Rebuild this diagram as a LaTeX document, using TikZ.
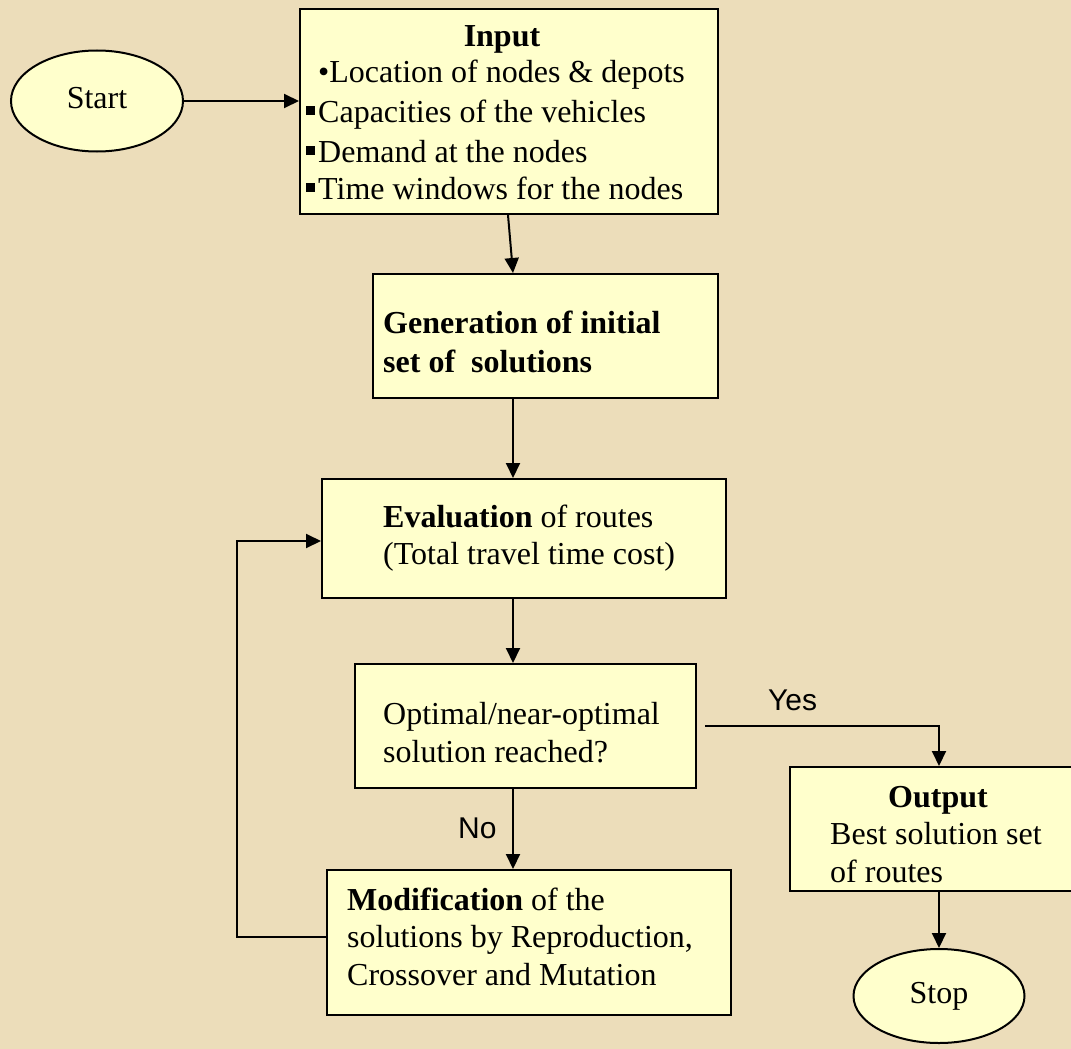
\documentclass[tikz,border=0pt]{standalone}
\usepackage{fontspec}
\setmainfont{Liberation Serif}
\newfontfamily\arialf{Liberation Sans}
\usetikzlibrary{arrows.meta,shapes.geometric}
\definecolor{bgcol}{RGB}{236,221,186}
\definecolor{boxcol}{RGB}{255,255,204}
\tikzset{
  box/.style={draw=black, fill=boxcol, line width=2pt, rectangle, anchor=north west, inner sep=0pt},
  oval/.style={draw=black, fill=boxcol, line width=2pt, ellipse, inner sep=0pt,
    font=\fontsize{32}{38}\selectfont, text height=21pt, text depth=7pt},
  txt/.style={inner sep=0pt, anchor=base west, font=\fontsize{32}{38}\selectfont},
  ctxt/.style={inner sep=0pt, anchor=base, font=\fontsize{32}{38}\selectfont},
  lbl/.style={inner sep=0pt, anchor=base west, font=\arialf\fontsize{30}{36}\selectfont},
  arr/.style={line width=2pt, -{Triangle[length=15pt,width=14pt]}},
  conn/.style={line width=2pt}
}
\newcommand{\sqb}{\rule[7pt]{9pt}{9pt}\hspace{3pt}}
\begin{document}
\begin{tikzpicture}[x=1pt,y=-1pt]
\useasboundingbox (0,0) rectangle (1071,1049);
\clip (0,0) rectangle (1071,1049);
\fill[bgcol] (0,0) rectangle (1071,1049);

\coordinate (col) at (513,0);
\coordinate (ocol) at (939,0);
\coordinate (loopx) at (237,0);

% boxes
\node[box, minimum width=418, minimum height=205] (input) at (299,8) {};
\node[box, minimum width=345, minimum height=124] (gen) at (372,273) {};
\node[box, minimum width=404, minimum height=119] (eval) at (321,478) {};
\node[box, minimum width=341, minimum height=124] (dec) at (354,663) {};
\node[box, minimum width=404, minimum height=145] (mod) at (326,869) {};
\node[box, minimum width=300, minimum height=124] (out) at (789,766) {};
\node[oval, minimum width=172, minimum height=101] (start) at (97,101) {Start};
\node[oval, minimum width=171, minimum height=94] (stop) at (939,996) {Stop};

% texts
\node[ctxt] (t-in) at (502,47) {\textbf{Input}};
\node[txt] (t-in1) at (318,83) {•Location of nodes \& depots};
\node[txt] (t-in2) at (306,122) {\sqb Capacities of the vehicles};
\node[txt] (t-in3) at (306,162) {\sqb Demand at the nodes};
\node[txt] (t-in4) at (306,199) {\sqb Time windows for the nodes};

\node[txt] (t-gen1) at (383,333) {\textbf{Generation of initial}};
\node[txt] (t-gen2) at (383,372) {\textbf{set of~~solutions}};

\node[txt] (t-ev1) at (383,527) {\textbf{Evaluation} of routes};
\node[txt] (t-ev2) at (383,564) {(Total travel time cost)};

\node[txt] (t-dec1) at (383,724) {Optimal/near-optimal};
\node[txt] (t-dec2) at (383,762) {solution reached?};

\node[txt] (t-mod1) at (347,910) {\textbf{Modification} of the};
\node[txt] (t-mod2) at (347,947) {solutions by Reproduction,};
\node[txt] (t-mod3) at (347,985) {Crossover and Mutation};

\node[ctxt] (t-out) at (938,807) {\textbf{Output}};
\node[txt] (t-out1) at (830,844) {Best solution set};
\node[txt] (t-out2) at (830,882) {of routes};

\node[lbl] (yes) at (768,710) {Yes};
\node[lbl] (no) at (458,838) {No};

% connectors
\draw[arr] (start.east) -- (start.east -| input.west);
\draw[arr] ([xshift=-1pt]input.south) -- (gen.north -| col);
\draw[arr] (gen.south -| col) -- (eval.north -| col);
\draw[arr] (eval.south -| col) -- (dec.north -| col);
\draw[arr] (dec.south -| col) -- (mod.north -| col);
\draw[arr] ([xshift=8pt]dec.east) -| (out.north -| ocol);
\draw[arr] (out.south -| ocol) -- (stop.north);
\draw[arr] ([yshift=5.5pt]mod.west) -- ([yshift=5.5pt]mod.west -| loopx) |- ([yshift=-2.5pt]eval.west);
\end{tikzpicture}
\end{document}
